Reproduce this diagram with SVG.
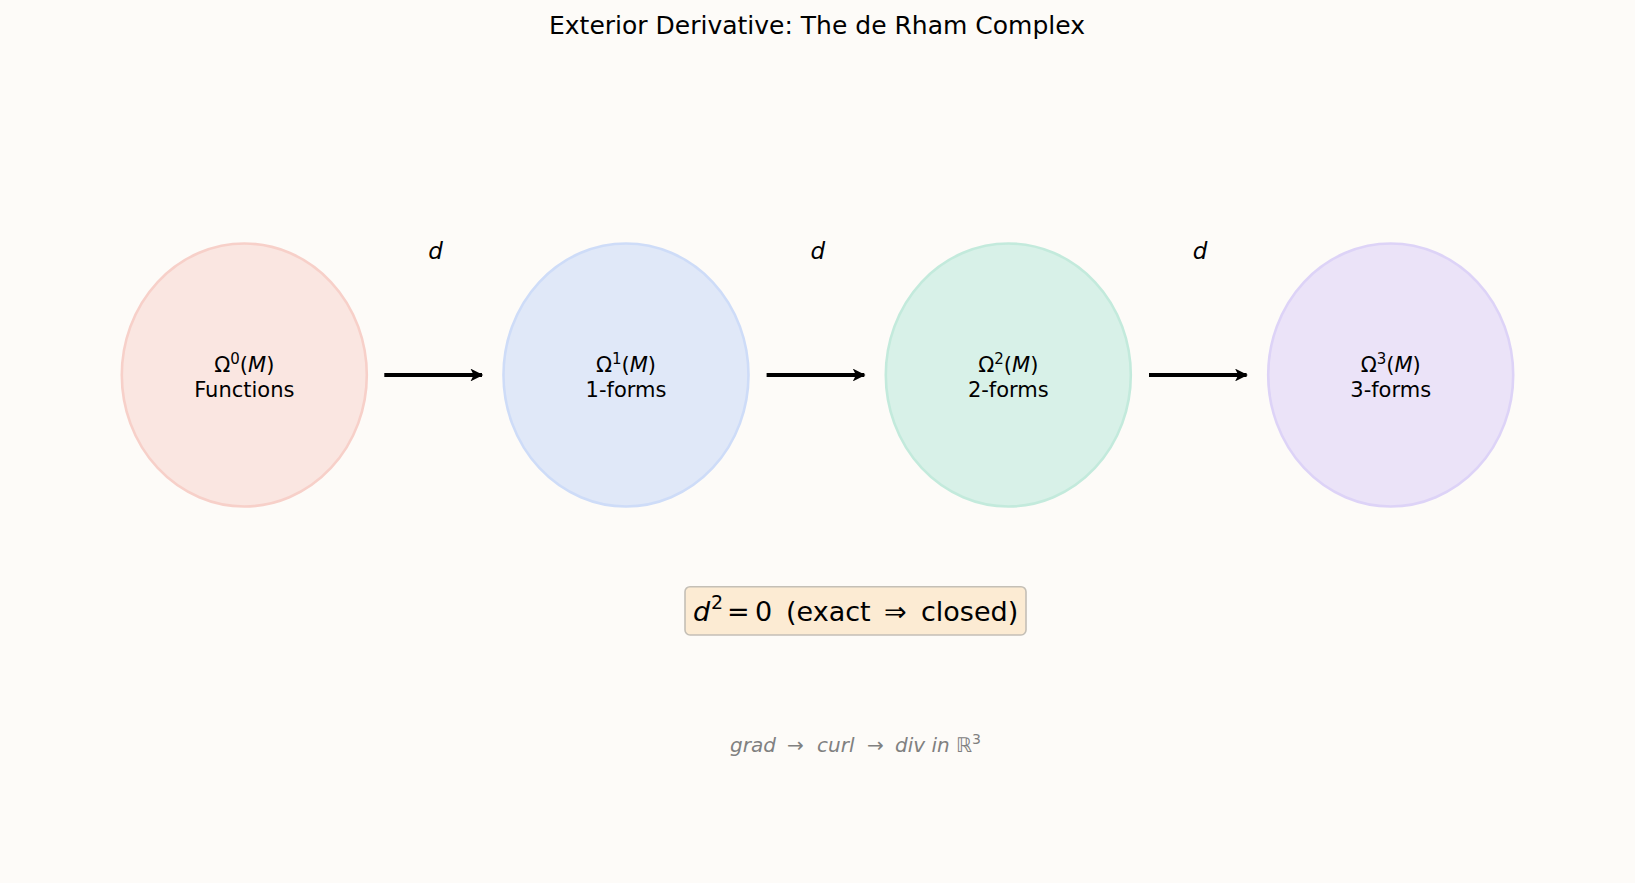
<svg xmlns="http://www.w3.org/2000/svg" width="1635" height="883" viewBox="0 0 1635 883">
<defs>
<style>
text{font-family:"DejaVu Sans","Noto Sans",sans-serif;fill:#000}
.node{stroke-width:2.6}
.lbl{font-size:21px;text-anchor:middle}
.sup{font-size:15px}
.it{font-style:italic}
.d{font-size:23px;font-style:italic;text-anchor:middle}
.conn{stroke:#000;stroke-width:4;fill:none;marker-end:url(#ah)}
</style>
<marker id="ah" viewBox="0 0 10 10" refX="9" refY="5" markerWidth="3.4" markerHeight="3.2" orient="auto" markerUnits="strokeWidth">
<path d="M0,0 L10,5 L0,10 L2.5,5 Z" fill="#000"/>
</marker>
</defs>
<rect width="1635" height="883" fill="#fdfbf8"/>
<text x="817" y="34" font-size="25" text-anchor="middle">Exterior Derivative: The de Rham Complex</text>

<g id="node0">
<ellipse class="node" cx="244.3" cy="375" rx="122.5" ry="131.5" fill="#fae6e1" stroke="#f7d0c9"/>
<text class="lbl" x="244.3" y="371.7">Ω<tspan class="sup" dy="-8">0</tspan><tspan dy="8">(</tspan><tspan class="it">M</tspan>)</text>
<text class="lbl" x="244.3" y="396.7">Functions</text>
</g>
<g id="node1">
<ellipse class="node" cx="626" cy="375" rx="122.5" ry="131.5" fill="#e0e8f8" stroke="#cedcf8"/>
<text class="lbl" x="626" y="371.7">Ω<tspan class="sup" dy="-8">1</tspan><tspan dy="8">(</tspan><tspan class="it">M</tspan>)</text>
<text class="lbl" x="626" y="396.7">1-forms</text>
</g>
<g id="node2">
<ellipse class="node" cx="1008.3" cy="375" rx="122.5" ry="131.5" fill="#d8f1e8" stroke="#c3eadc"/>
<text class="lbl" x="1008.3" y="371.7">Ω<tspan class="sup" dy="-8">2</tspan><tspan dy="8">(</tspan><tspan class="it">M</tspan>)</text>
<text class="lbl" x="1008.3" y="396.7">2-forms</text>
</g>
<g id="node3">
<ellipse class="node" cx="1390.7" cy="375" rx="122.5" ry="131.5" fill="#ebe3f8" stroke="#ddd3f7"/>
<text class="lbl" x="1390.7" y="371.7">Ω<tspan class="sup" dy="-8">3</tspan><tspan dy="8">(</tspan><tspan class="it">M</tspan>)</text>
<text class="lbl" x="1390.7" y="396.7">3-forms</text>
</g>

<g id="connectors">
<line class="conn" x1="384.3" y1="375" x2="482" y2="375"/>
<line class="conn" x1="766.6" y1="375" x2="864.3" y2="375"/>
<line class="conn" x1="1149" y1="375" x2="1246.6" y2="375"/>
<text class="d" x="435.5" y="259">d</text>
<text class="d" x="817.8" y="259">d</text>
<text class="d" x="1200.1" y="259">d</text>
</g>

<g id="note">
<rect x="685" y="586.7" width="341" height="48.3" rx="5" fill="#fcebd3" stroke="#c4bfb6" stroke-width="1.6"/>
<text y="620.7" font-size="27"><tspan class="it" x="693">d</tspan><tspan x="711" y="609" font-size="19">2</tspan><tspan x="727" y="620.7">=</tspan><tspan x="755">0</tspan><tspan x="786">(exact</tspan><tspan x="884">⇒</tspan><tspan x="921">closed)</tspan></text>
</g>
<g id="footer">
<text y="751.7" font-size="20" style="fill:#808080;font-style:italic"><tspan x="730">grad</tspan><tspan x="787" style="font-style:normal">→</tspan><tspan x="817">curl</tspan><tspan x="867" style="font-style:normal">→</tspan><tspan x="895">div in ℝ</tspan><tspan font-size="14" dy="-8" style="font-style:normal">3</tspan></text>
</g>
</svg>
